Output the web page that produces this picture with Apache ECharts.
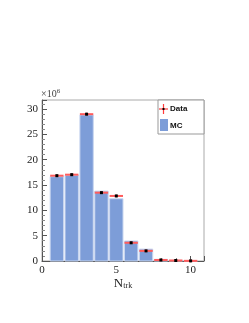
<!DOCTYPE html>
<html><head><meta charset="utf-8">
<script src="https://cdn.jsdelivr.net/npm/echarts@6/dist/echarts.min.js"></script>
<style>html,body{margin:0;padding:0;background:#fff}#c{width:249px;height:323px}</style>
</head><body><div id="c"></div>
<script>
var bins = [1, 2, 3, 4, 5, 6, 7, 8, 9, 10];
var dataVals = [16.85, 17.05, 29.0, 13.5, 12.85, 3.6, 2.0, 0.2, 0.1, 0.03];
var mcVals = [16.65, 16.95, 28.85, 13.8, 12.3, 3.95, 2.35, 0.33, 0.12, 0.03];
var yTicks = [0, 5, 10, 15, 20, 25, 30];
var xTicks = [0, 5, 10];
var halfW = 0.45;
var serif = '"Liberation Serif","DejaVu Serif",serif';
var sans = '"Liberation Sans","DejaVu Sans",sans-serif';

var chart = echarts.init(document.getElementById('c'));
chart.setOption({
  animation: false,
  grid: {left: 42, top: 100, right: 45, bottom: 62, show: true, borderColor: '#aaa', borderWidth: 1},
  xAxis: {
    type: 'value', min: 0, max: 10.9, interval: 5,
    axisLine: {show: true, onZero: false, lineStyle: {color: '#555'}},
    axisTick: {inside: true, length: 5, lineStyle: {color: '#555'}},
    minorTick: {show: true, splitNumber: 5, length: 3, lineStyle: {color: '#888'}},
    splitLine: {show: false},
    axisLabel: {fontFamily: serif, fontSize: 11, color: '#222', margin: 4,
      formatter: function (v) { return xTicks.indexOf(v) >= 0 ? String(v) : ''; }},
    name: '{n|N}{s|trk}', nameLocation: 'middle', nameGap: 14,
    nameTextStyle: {rich: {n: {fontFamily: serif, fontSize: 13, color: '#222'},
      s: {fontFamily: serif, fontSize: 8, color: '#222', verticalAlign: 'bottom', padding: [6, 0, 0, 0]}}}
  },
  yAxis: {
    type: 'value', min: 0, max: 31.8, interval: 5,
    axisLine: {show: true, lineStyle: {color: '#555'}},
    axisTick: {show: true, inside: true, length: 5, lineStyle: {color: '#555'}},
    minorTick: {show: true, splitNumber: 5, length: 3, lineStyle: {color: '#888'}},
    splitLine: {show: false},
    axisLabel: {fontFamily: serif, fontSize: 11, color: '#222', margin: 4,
      formatter: function (v) { return yTicks.indexOf(v) >= 0 ? String(v) : ''; }}
  },
  series: [
    {
      name: 'MC', type: 'custom',
      data: bins.map(function (b, i) { return [b, mcVals[i]]; }),
      renderItem: function (params, api) {
        var x = api.value(0), y = api.value(1);
        var p1 = api.coord([x - halfW, y]);
        var p2 = api.coord([x + halfW, 0]);
        return {type: 'rect', shape: {x: p1[0], y: p1[1], width: p2[0] - p1[0], height: p2[1] - p1[1]},
          style: {fill: '#7d9dd8', stroke: '#c9d6f0', lineWidth: 1}};
      }
    },
    {
      name: 'Data', type: 'custom',
      data: bins.map(function (b, i) { return [b, dataVals[i]]; }),
      renderItem: function (params, api) {
        var x = api.value(0), y = api.value(1);
        var a = api.coord([x - halfW, y]);
        var b = api.coord([x + halfW, y]);
        var c = api.coord([x, y]);
        return {type: 'group', children: [
          {type: 'line', shape: {x1: a[0], y1: a[1], x2: b[0], y2: b[1]}, style: {stroke: '#ff5c5c', lineWidth: 2}},
          {type: 'line', shape: {x1: c[0], y1: c[1] - 1.5, x2: c[0], y2: c[1] + 1.5}, style: {stroke: '#ff5c5c', lineWidth: 1}},
          {type: 'rect', shape: {x: c[0] - 1.5, y: c[1] - 1.5, width: 3, height: 3}, style: {fill: '#000'}}
        ]};
      }
    }
  ],
  graphic: [
    {type: 'text', left: 41, top: 88, style: {text: '×10{s|6}', fontFamily: serif, fontSize: 10, fill: '#444',
      rich: {s: {fontFamily: serif, fontSize: 7, fill: '#444', verticalAlign: 'top', padding: [0, 0, 5, 0]}}}},
    {type: 'rect', shape: {x: 158, y: 100, width: 46, height: 34}, style: {fill: '#fff', stroke: '#999', lineWidth: 1}, z: 10},
    {type: 'line', shape: {x1: 159, y1: 109, x2: 168, y2: 109}, style: {stroke: '#ff3b3b', lineWidth: 1.2}, z: 11},
    {type: 'line', shape: {x1: 163.5, y1: 104, x2: 163.5, y2: 114}, style: {stroke: '#ff3b3b', lineWidth: 1.2}, z: 11},
    {type: 'rect', shape: {x: 162.5, y: 108, width: 2, height: 2}, style: {fill: '#000'}, z: 12},
    {type: 'text', x: 170, y: 109, style: {text: 'Data', fontFamily: sans, fontWeight: 'bold', fontSize: 8, fill: '#111', textVerticalAlign: 'middle'}, z: 12},
    {type: 'rect', shape: {x: 160, y: 119, width: 8, height: 12}, style: {fill: '#7d9dd8'}, z: 11},
    {type: 'text', x: 170, y: 126, style: {text: 'MC', fontFamily: sans, fontWeight: 'bold', fontSize: 8, fill: '#111', textVerticalAlign: 'middle'}, z: 12}
  ]
});
</script></body></html>
